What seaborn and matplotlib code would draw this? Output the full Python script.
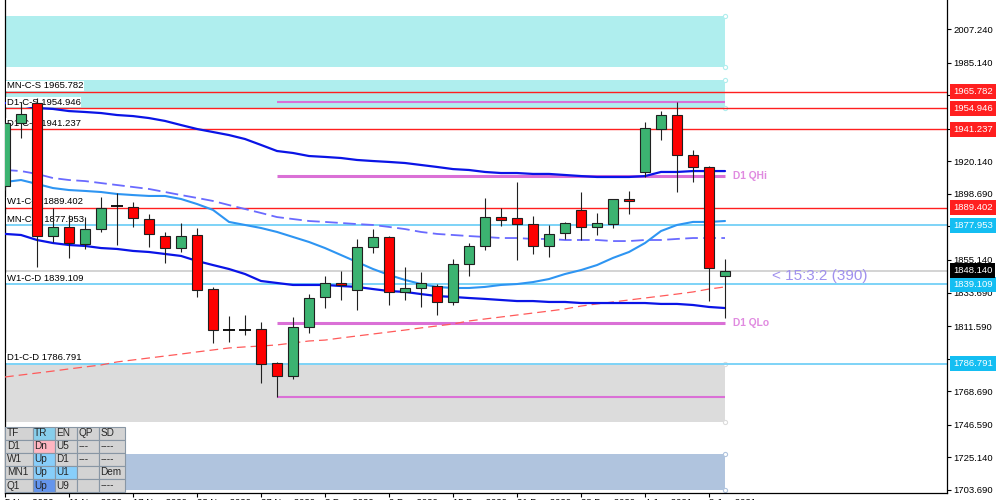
import matplotlib
matplotlib.use('Agg')
import numpy as np
import pandas as pd
import matplotlib.pyplot as plt
import seaborn as sns

sns.set_theme(style='white')
plt.rcParams['font.family'] = ['Liberation Sans', 'DejaVu Sans']

# ---- daily candles (XAUUSD, Nov 2020 - Jan 2021) ----
dates = ['5 Nov 2020', '6 Nov 2020', '9 Nov 2020', '10 Nov 2020', '11 Nov 2020', '12 Nov 2020',
         '13 Nov 2020', '16 Nov 2020', '17 Nov 2020', '18 Nov 2020', '19 Nov 2020', '20 Nov 2020',
         '23 Nov 2020', '24 Nov 2020', '25 Nov 2020', '26 Nov 2020', '27 Nov 2020', '30 Nov 2020',
         '1 Dec 2020', '2 Dec 2020', '3 Dec 2020', '4 Dec 2020', '7 Dec 2020', '8 Dec 2020',
         '9 Dec 2020', '10 Dec 2020', '11 Dec 2020', '14 Dec 2020', '15 Dec 2020', '16 Dec 2020',
         '17 Dec 2020', '18 Dec 2020', '21 Dec 2020', '22 Dec 2020', '23 Dec 2020', '24 Dec 2020',
         '28 Dec 2020', '29 Dec 2020', '30 Dec 2020', '31 Dec 2020', '4 Jan 2021', '5 Jan 2021',
         '6 Jan 2021', '7 Jan 2021', '8 Jan 2021', '11 Jan 2021']
opens = [1903.9, 1945.3, 1958.5, 1870.9, 1876.9, 1865.7, 1875.5, 1890.7, 1890.0, 1882.1,
         1870.9, 1863.0, 1871.6, 1836.0, 1809.0, 1809.0, 1809.7, 1787.3, 1778.7, 1811.0,
         1830.8, 1840.0, 1835.4, 1863.7, 1870.3, 1834.1, 1836.7, 1838.0, 1827.5, 1852.5,
         1864.4, 1883.4, 1882.8, 1878.8, 1864.4, 1872.9, 1888.1, 1876.9, 1878.8, 1895.3,
         1913.1, 1941.4, 1950.6, 1924.3, 1916.4, 1844.6]
highs = [1946.0, 1959.2, 1961.8, 1889.4, 1884.8, 1883.4, 1896.6, 1899.3, 1893.3, 1885.4,
         1873.6, 1879.5, 1876.2, 1837.4, 1818.3, 1818.9, 1814.3, 1788.0, 1817.6, 1832.7,
         1844.6, 1847.9, 1869.0, 1875.5, 1870.9, 1850.5, 1847.2, 1839.3, 1855.8, 1866.3,
         1896.0, 1889.4, 1906.5, 1884.1, 1878.2, 1880.2, 1899.9, 1886.1, 1895.3, 1900.6,
         1946.0, 1953.2, 1959.2, 1927.6, 1916.8, 1855.8]
lows = [1901.0, 1935.5, 1850.5, 1867.0, 1856.5, 1862.4, 1873.6, 1865.0, 1876.9, 1863.7,
        1853.2, 1860.4, 1830.8, 1800.5, 1801.1, 1805.7, 1774.1, 1764.9, 1776.8, 1807.1,
        1823.5, 1828.8, 1822.2, 1859.7, 1825.5, 1828.8, 1824.2, 1818.9, 1825.5, 1844.6,
        1861.7, 1877.5, 1855.1, 1859.1, 1857.1, 1869.0, 1868.3, 1871.6, 1876.2, 1885.4,
        1909.8, 1934.2, 1899.9, 1906.5, 1828.1, 1816.9]
closes = [1945.3, 1951.3, 1870.9, 1876.9, 1866.3, 1875.5, 1889.4, 1890.7, 1882.8, 1872.3,
          1863.0, 1870.9, 1835.4, 1809.0, 1809.0, 1809.0, 1786.6, 1778.7, 1811.0, 1830.1,
          1840.0, 1838.7, 1863.7, 1870.3, 1834.1, 1836.7, 1840.0, 1827.5, 1852.5, 1864.4,
          1883.4, 1881.5, 1878.8, 1864.4, 1872.3, 1879.5, 1876.9, 1879.5, 1895.3, 1894.0,
          1942.1, 1950.6, 1924.3, 1916.4, 1849.9, 1848.14]

# ---- moving averages ----
ma_upper = [1958.5, 1957.2, 1955.2, 1954.6, 1953.2, 1952.6, 1951.9, 1950.6, 1949.9, 1948.6,
            1946.7, 1944.0, 1941.4, 1939.4, 1937.4, 1934.8, 1930.9, 1926.9, 1925.6, 1923.6,
            1923.0, 1922.3, 1921.0, 1920.3, 1919.7, 1919.0, 1917.7, 1916.4, 1915.0, 1914.4,
            1913.1, 1912.4, 1912.4, 1911.8, 1911.8, 1911.1, 1910.4, 1909.8, 1909.8, 1909.8,
            1910.4, 1913.1, 1913.1, 1913.7, 1913.7, 1913.7]
ma_lower = [1872.3, 1871.6, 1868.3, 1866.3, 1865.0, 1864.4, 1863.0, 1862.4, 1861.1, 1860.4,
            1859.1, 1857.8, 1854.5, 1851.8, 1849.2, 1845.9, 1841.3, 1840.0, 1838.7, 1838.7,
            1838.7, 1838.0, 1837.4, 1836.0, 1834.7, 1834.1, 1832.7, 1831.4, 1830.8, 1830.1,
            1829.5, 1828.8, 1828.1, 1828.1, 1827.5, 1827.5, 1826.8, 1826.8, 1826.8, 1826.8,
            1826.8, 1826.2, 1826.2, 1825.5, 1824.2, 1823.5]
ma_fast = [1906.5, 1907.8, 1905.2, 1902.5, 1901.2, 1900.6, 1899.9, 1898.6, 1897.9, 1897.3,
           1897.3, 1895.3, 1892.0, 1888.1, 1880.2, 1878.2, 1876.2, 1873.6, 1870.3, 1867.0,
           1863.0, 1858.4, 1853.8, 1849.2, 1845.3, 1842.0, 1839.3, 1837.4, 1836.7, 1836.7,
           1837.4, 1838.7, 1839.3, 1840.6, 1842.6, 1845.9, 1848.5, 1851.8, 1856.5, 1860.4,
           1866.3, 1874.2, 1878.2, 1880.2, 1880.2, 1880.8]
ma_dashed = [1914.4, 1913.7, 1911.8, 1909.1, 1907.8, 1907.1, 1905.8, 1904.5, 1903.2, 1901.9,
             1899.9, 1897.9, 1896.0, 1894.0, 1891.3, 1888.7, 1886.1, 1883.4, 1882.1, 1880.8,
             1880.2, 1879.5, 1878.8, 1878.2, 1876.9, 1875.5, 1873.6, 1872.3, 1871.6, 1870.9,
             1870.3, 1869.6, 1869.6, 1869.0, 1869.0, 1868.3, 1868.3, 1868.3, 1867.6, 1867.6,
             1868.3, 1868.3, 1869.0, 1869.6, 1869.6, 1869.6]
ma_long = [1778.1, 1779.4, 1780.7, 1782.0, 1783.4, 1784.7, 1786.0, 1788.0, 1789.3, 1790.6,
           1791.9, 1793.2, 1794.6, 1795.9, 1797.2, 1797.9, 1798.5, 1799.2, 1800.5, 1801.8,
           1802.4, 1803.8, 1805.1, 1806.4, 1807.7, 1809.0, 1810.4, 1811.7, 1813.0, 1815.0,
           1816.3, 1817.6, 1818.9, 1820.2, 1821.5, 1822.9, 1824.8, 1826.2, 1827.5, 1828.8,
           1830.1, 1831.4, 1832.7, 1834.1, 1836.0, 1837.4]

# ---- supply / demand levels ----
level_names = ['MN-C-S', 'D1-C-S', 'D1-C-S', 'W1-C-S', 'MN-C-D', 'W1-C-D', 'D1-C-D']
level_prices = [1965.782, 1954.946, 1941.237, 1889.402, 1877.953, 1839.109, 1786.791]

# zones (rectangles)
zone_top = [2015.8, 1973.7, 1786.8, 1727.4]
zone_bottom = [1982.2, 1955.2, 1748.5, 1703.7]
zone_colors = ['#AFEEEE', '#AFEEEE', '#DCDCDC', '#B0C4DE']

# quarter lines
q_prices = [1959.5, 1910.4, 1813.6, 1764.9]
q_labels = ['', 'D1 QHi', 'D1 QLo', '']
q_widths = [1.5, 2.2, 2.2, 1.5]

current_price = 1848.140
timer_text = '< 15:3:2 (390)'

y_ticks = [1703.690, 1725.140, 1746.590, 1768.690, 1790.140, 1811.590, 1833.690, 1855.140,
           1877.590, 1898.690, 1920.140, 1941.590, 1963.690, 1985.140, 2007.240]

table_text = [['TF', 'TR', 'EN', 'QP', 'SD'],
              ['D1', 'Dn', 'U5', '---', '----'],
              ['W1', 'Up', 'D1', '---', '----'],
              ['MN1', 'Up', 'U1', '', 'Dem'],
              ['Q1', 'Up', 'U9', '', '----']]
table_colors = [['#D3D3D3', '#87CEEB', '#D3D3D3', '#D3D3D3', '#D3D3D3'],
                ['#D3D3D3', '#FFB6C1', '#D3D3D3', '#D3D3D3', '#D3D3D3'],
                ['#D3D3D3', '#87CEFA', '#D3D3D3', '#D3D3D3', '#D3D3D3'],
                ['#D3D3D3', '#87CEFA', '#87CEFA', '#D3D3D3', '#D3D3D3'],
                ['#D3D3D3', '#6495ED', '#D3D3D3', '#D3D3D3', '#D3D3D3']]

RED = '#FF1F1F'
BLUE_LVL = '#7DD3F7'
BOX_BLUE = '#14BEF2'
FS = 6.8

n = len(closes)
idx = np.arange(n)
df = pd.DataFrame({'idx': idx, 'open': opens, 'high': highs, 'low': lows, 'close': closes,
                   'ma_upper': ma_upper, 'ma_lower': ma_lower, 'ma_fast': ma_fast,
                   'ma_dashed': ma_dashed, 'ma_long': ma_long})

fig = plt.figure(figsize=(10, 5), dpi=100)
ax = fig.add_axes([0.005, 0.014, 0.942, 0.986])
ax.set_xlim(0, 58.875)
ax.set_ylim(1701.70, 2026.34)

# zones
last = n - 1
for top, bot, col in zip(zone_top, zone_bottom, zone_colors):
    ax.fill_between([-1, last], bot, top, color=col, lw=0, zorder=0)
    ax.scatter([last, last], [top, bot], s=9, facecolor='white', edgecolor=col,
               linewidth=0.8, zorder=1, clip_on=False)

# level lines
for name, p in zip(level_names, level_prices):
    col = RED if name.endswith('S') else BLUE_LVL
    lw = 1.0 if col == RED else 1.4
    ax.axhline(p, color=col, lw=lw, zorder=1.5)
ax.axhline(current_price, color='#D0D0D0', lw=1.3, zorder=1.4)

# quarter lines
for p, lab, w in zip(q_prices, q_labels, q_widths):
    ax.hlines(p, 17, last, color='#DA70D6', lw=w, zorder=2)
    if lab:
        ax.annotate(lab, xy=(last, p), xytext=(6, 0), textcoords='offset points',
                    ha='left', va='center', color='#E08AE0', fontsize=7.4,
                    fontweight='bold', zorder=4)

# moving averages
sns.lineplot(data=df, x='idx', y='ma_long', ax=ax, color='#FF5A5A', lw=0.9,
             linestyle=(0, (7, 4)), zorder=2.6)
sns.lineplot(data=df, x='idx', y='ma_dashed', ax=ax, color='#6A6AFF', lw=1.3,
             linestyle=(0, (7, 3)), zorder=2.7)
sns.lineplot(data=df, x='idx', y='ma_fast', ax=ax, color='#2E95F2', lw=1.5, zorder=2.8)
sns.lineplot(data=df, x='idx', y='ma_upper', ax=ax, color='#0A14E6', lw=1.6, zorder=2.9)
sns.lineplot(data=df, x='idx', y='ma_lower', ax=ax, color='#0A14E6', lw=1.6, zorder=2.9)

# level labels on the left
for name, p in zip(level_names, level_prices):
    ax.annotate(f'{name} {p:.3f}', xy=(0, p), xytext=(1.4, 1.2), textcoords='offset points',
                ha='left', va='bottom', fontsize=FS, color='black', zorder=3.5,
                bbox=dict(facecolor='white', edgecolor='none', pad=0.4))

# candles
body_lo = df[['open', 'close']].min(axis=1)
body_h = (df['close'] - df['open']).abs()
is_doji = body_h < 0.3
bull = df['close'] >= df['open']
ax.vlines(df['idx'], df['low'], df['high'], color='#202020', lw=0.8, zorder=5)
cols = np.where(bull, '#3CB371', '#FF0000')
nd = ~is_doji
ax.bar(df['idx'][nd], body_h[nd], bottom=body_lo[nd], width=0.64, color=cols[nd],
       edgecolor='#202020', linewidth=0.8, zorder=6)
ax.hlines(df['open'][is_doji], df['idx'][is_doji] - 0.36, df['idx'][is_doji] + 0.36,
          color='black', lw=1.3, zorder=6)

# axes styling
ax.set_xlabel('')
ax.set_ylabel('')
ax.spines['top'].set_visible(False)
for s in ['left', 'right', 'bottom']:
    ax.spines[s].set_color('black')
    ax.spines[s].set_linewidth(0.9)
ax.yaxis.tick_right()
ax.set_yticks(y_ticks)
# tick labels that sit under a price box are hidden, as on the terminal
boxed = level_prices + [current_price]
ax.set_yticklabels(['' if min(abs(v - b) for b in boxed) < 4.5 else f'{v:.3f}'
                    for v in y_ticks])
ax.tick_params(axis='y', which='both', right=True, left=False, length=3, width=0.8,
               pad=1.5, labelsize=FS, colors='black')
tick_pos = idx[::4]
ax.set_xticks(tick_pos)
ax.set_xticklabels([dates[i] for i in tick_pos], ha='left')
ax.tick_params(axis='x', bottom=True, length=3, width=0.8, pad=0.5, labelsize=FS,
               colors='black')
ax.grid(False)

# price boxes on the right axis
for name, p in zip(level_names, level_prices):
    fc = RED if name.endswith('S') else BOX_BLUE
    ax.annotate(f'{p:.3f}', xy=(1, p), xycoords=ax.get_yaxis_transform(), xytext=(4.3, 0),
                textcoords='offset points', ha='left', va='center', color='white',
                fontsize=FS, zorder=10, annotation_clip=False,
                bbox=dict(boxstyle='square,pad=0.32', facecolor=fc, edgecolor='none'))
ax.annotate(f'{current_price:.3f}', xy=(1, current_price), xycoords=ax.get_yaxis_transform(),
            xytext=(4.3, 0), textcoords='offset points', ha='left', va='center', color='white',
            fontsize=FS, zorder=10, annotation_clip=False,
            bbox=dict(boxstyle='square,pad=0.32', facecolor='black', edgecolor='none'))

ax.annotate(timer_text, xy=(last, current_price), xytext=(34, -3.6), textcoords='offset points',
            ha='left', va='center', color='#A090EE', fontsize=11, zorder=4)

# status table
tbl = ax.table(cellText=table_text, cellColours=table_colors, cellLoc='left',
               colWidths=[28, 22, 22, 22, 26], bbox=[0.0, 0.002, 0.127, 0.132])
tbl.auto_set_font_size(False)
tbl.set_fontsize(7.2)
tbl.set_zorder(8)
for cell in tbl.get_celld().values():
    cell.set_edgecolor('#8896A4')
    cell.set_linewidth(0.8)
    cell.PAD = 0.06

fig.savefig('out.png', dpi=100)
